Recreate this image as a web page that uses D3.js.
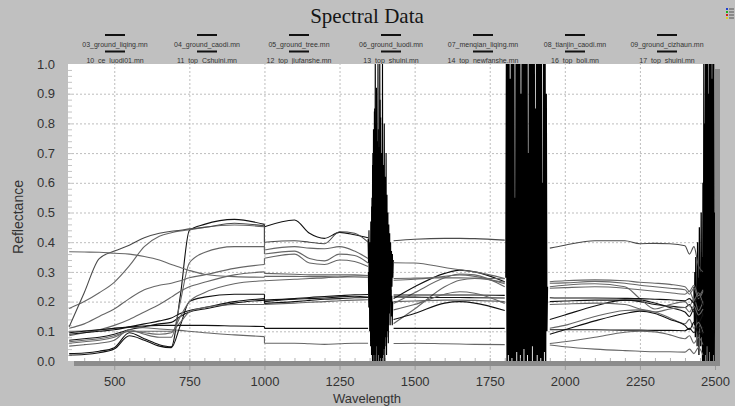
<!DOCTYPE html>
<html>
<head>
<meta charset="utf-8">
<script src="https://cdnjs.cloudflare.com/ajax/libs/d3/7.8.5/d3.min.js"></script>
<style>
    html, body { margin: 0; padding: 0; background: #c0c0c0; }
    #chart { width: 735px; height: 406px; }
    text { font-family: "Liberation Sans", Arial, sans-serif; }
</style>
</head>
<body>
<div id="chart"></div>
<script>
var seriesNames = ["03_ground_liqing.mn", "04_ground_caodi.mn", "05_ground_tree.mn", "06_ground_luodi.mn",
    "07_menqian_liqing.mn", "08_tianjin_caodi.mn", "09_ground_cizhaun.mn", "10_ce_luodi01.mn",
    "11_top_Cshuini.mn", "12_top_jiufanshe.mn", "13_top_shuini.mn", "14_top_newfanshe.mn",
    "16_top_boli.mn", "17_top_shuini.mn"];

// line shade per series (dark / grey)
var seriesShade = ["#111111", "#111111", "#666666", "#666666", "#666666", "#111111", "#666666",
    "#4a4a4a", "#666666", "#666666", "#111111", "#666666", "#111111", "#666666"];

// spectrum pieces, split at the detector join (1000) and the water bands
var visWave = [350, 400, 450, 500, 550, 600, 650, 690, 720, 750, 800, 900, 1000];
var swirAWave = [1000, 1100, 1150, 1200, 1250, 1300, 1345];
var swirBWave = [1430, 1500, 1600, 1650, 1700, 1800];
var swirCWave = [1950, 2000, 2100, 2200, 2250, 2300, 2350, 2400, 2415, 2430, 2445, 2460];

var visValues = [
    [0.07, 0.075, 0.08, 0.09, 0.105, 0.115, 0.125, 0.13, 0.15, 0.165, 0.175, 0.195, 0.205],
    [0.025, 0.027, 0.033, 0.045, 0.095, 0.075, 0.055, 0.048, 0.22, 0.44, 0.46, 0.477, 0.46],
    [0.05, 0.055, 0.06, 0.07, 0.105, 0.09, 0.08, 0.08, 0.2, 0.33, 0.365, 0.385, 0.385],
    [0.177, 0.2, 0.23, 0.265, 0.32, 0.385, 0.42, 0.432, 0.438, 0.442, 0.45, 0.458, 0.452],
    [0.1, 0.102, 0.105, 0.11, 0.113, 0.112, 0.108, 0.105, 0.103, 0.1, 0.095, 0.088, 0.082],
    [0.02, 0.022, 0.028, 0.04, 0.085, 0.07, 0.05, 0.045, 0.12, 0.2, 0.215, 0.225, 0.225],
    [0.11, 0.125, 0.15, 0.175, 0.21, 0.24, 0.255, 0.262, 0.27, 0.28, 0.29, 0.312, 0.325],
    [0.115, 0.23, 0.345, 0.37, 0.39, 0.415, 0.43, 0.437, 0.44, 0.445, 0.45, 0.464, 0.455],
    [0.085, 0.095, 0.105, 0.12, 0.14, 0.165, 0.19, 0.215, 0.235, 0.25, 0.265, 0.29, 0.3],
    [0.368, 0.367, 0.366, 0.363, 0.36, 0.352, 0.34, 0.325, 0.315, 0.305, 0.292, 0.284, 0.282],
    [0.09, 0.095, 0.1, 0.105, 0.115, 0.125, 0.135, 0.145, 0.16, 0.17, 0.18, 0.2, 0.21],
    [0.065, 0.07, 0.075, 0.085, 0.1, 0.1, 0.1, 0.1, 0.13, 0.165, 0.18, 0.19, 0.19],
    [0.095, 0.1, 0.105, 0.11, 0.115, 0.118, 0.12, 0.12, 0.12, 0.12, 0.12, 0.118, 0.116],
    [0.06, 0.065, 0.07, 0.08, 0.1, 0.095, 0.09, 0.095, 0.15, 0.2, 0.23, 0.26, 0.27]
];

var swirAValues = [
    [0.194, 0.2, 0.204, 0.208, 0.21, 0.213, 0.214],
    [0.452, 0.475, 0.43, 0.413, 0.433, 0.425, 0.415],
    [0.36, 0.37, 0.345, 0.337, 0.36, 0.355, 0.33],
    [0.374, 0.385, 0.38, 0.378, 0.385, 0.37, 0.345],
    [0.06, 0.06, 0.058, 0.056, 0.058, 0.06, 0.06],
    [0.2, 0.208, 0.21, 0.212, 0.216, 0.218, 0.215],
    [0.346, 0.36, 0.33, 0.325, 0.34, 0.335, 0.318],
    [0.4, 0.405, 0.4, 0.395, 0.435, 0.43, 0.4],
    [0.295, 0.292, 0.29, 0.29, 0.29, 0.29, 0.288],
    [0.285, 0.285, 0.284, 0.284, 0.283, 0.283, 0.282],
    [0.205, 0.21, 0.214, 0.217, 0.22, 0.223, 0.224],
    [0.19, 0.195, 0.198, 0.2, 0.203, 0.205, 0.206],
    [0.11, 0.11, 0.11, 0.11, 0.11, 0.11, 0.11],
    [0.27, 0.275, 0.278, 0.28, 0.283, 0.286, 0.287]
];

var swirBValues = [
    [0.216, 0.215, 0.214, 0.214, 0.213, 0.212],
    [0.21, 0.25, 0.295, 0.306, 0.3, 0.267],
    [0.126, 0.175, 0.25, 0.272, 0.278, 0.265],
    [0.331, 0.33, 0.315, 0.307, 0.3, 0.278],
    [0.059, 0.06, 0.058, 0.057, 0.056, 0.055],
    [0.14, 0.16, 0.195, 0.2, 0.195, 0.17],
    [0.194, 0.23, 0.28, 0.293, 0.29, 0.25],
    [0.405, 0.41, 0.413, 0.413, 0.412, 0.407],
    [0.272, 0.275, 0.285, 0.29, 0.285, 0.26],
    [0.278, 0.279, 0.28, 0.28, 0.279, 0.277],
    [0.222, 0.222, 0.222, 0.222, 0.222, 0.221],
    [0.2, 0.202, 0.205, 0.205, 0.204, 0.2],
    [0.11, 0.11, 0.11, 0.11, 0.11, 0.11],
    [0.172, 0.19, 0.225, 0.233, 0.228, 0.194]
];

var swirCValues = [
    [0.2, 0.202, 0.205, 0.205, 0.2, 0.19, 0.185, 0.18, 0.19, 0.165, 0.185, 0.15],
    [0.14, 0.155, 0.185, 0.205, 0.205, 0.195, 0.18, 0.165, 0.15, 0.175, 0.13, 0.16],
    [0.11, 0.12, 0.15, 0.17, 0.172, 0.165, 0.145, 0.125, 0.14, 0.11, 0.13, 0.095],
    [0.267, 0.27, 0.273, 0.27, 0.265, 0.262, 0.258, 0.25, 0.235, 0.255, 0.22, 0.24],
    [0.054, 0.048, 0.04, 0.035, 0.033, 0.031, 0.031, 0.03, 0.04, 0.025, 0.045, 0.02],
    [0.09, 0.105, 0.135, 0.16, 0.168, 0.16, 0.14, 0.12, 0.105, 0.13, 0.09, 0.115],
    [0.25, 0.255, 0.26, 0.25, 0.21, 0.175, 0.19, 0.2, 0.185, 0.21, 0.17, 0.2],
    [0.38, 0.39, 0.405, 0.405, 0.395, 0.396, 0.395, 0.388, 0.36, 0.385, 0.32, 0.3],
    [0.245, 0.247, 0.25, 0.245, 0.24, 0.235, 0.23, 0.225, 0.235, 0.205, 0.23, 0.19],
    [0.262, 0.263, 0.268, 0.262, 0.255, 0.25, 0.245, 0.24, 0.225, 0.245, 0.21, 0.235],
    [0.213, 0.212, 0.212, 0.211, 0.21, 0.208, 0.206, 0.203, 0.21, 0.195, 0.215, 0.185],
    [0.19, 0.192, 0.195, 0.19, 0.175, 0.165, 0.175, 0.18, 0.165, 0.185, 0.155, 0.175],
    [0.105, 0.105, 0.105, 0.104, 0.104, 0.103, 0.103, 0.102, 0.11, 0.095, 0.115, 0.09],
    [0.059, 0.065, 0.08, 0.097, 0.1, 0.098, 0.088, 0.075, 0.085, 0.06, 0.08, 0.055]
];

// noisy water absorption bands: [first wavelength, sampling step] + samples
var noise1400a = [1345, 1.5];
var noise1400aValues = [0.41, 0.33, 0.44, 0.2, 0.4, 0.12, 0.47, 0.08, 0.52, 0.04, 0.66, 0.02, 0.78, 0, 0.84,
    0.03, 1.05, 0, 0.8, 0.1, 0.74, 0, 1.05, 0.02, 0.72, 0, 1.05, 0.05, 0.82, 0, 0.7, 0.01, 1.05, 0, 0.66,
    0.04, 0.8, 0, 0.62, 0.08, 0.7, 0.02, 0.56, 0.1, 0.5, 0.06, 0.46, 0.16, 0.43, 0.12, 0.4, 0.2, 0.37,
    0.25, 0.36, 0.28, 0.34];
var noise1400b = [1346, 1.5];
var noise1400bValues = [0.3, 0.18, 0.35, 0.1, 0.3, 0.05, 0.4, 0.02, 0.55, 0, 0.7, 0.06, 0.45, 0, 0.85, 0.02,
    0.6, 0, 0.92, 0.05, 0.5, 0, 0.78, 0.03, 0.66, 0, 0.88, 0.01, 0.52, 0, 0.7, 0.04, 0.48, 0.02, 0.58, 0.07,
    0.42, 0.05, 0.38, 0.1, 0.35, 0.08, 0.3, 0.15, 0.33, 0.12, 0.28, 0.18, 0.26, 0.2, 0.24, 0.15, 0.22, 0.12, 0.2];
var noise1870 = [1804, 2];
var noise1870Values = [0.28, 1.05, 0, 1.05, 0.02, 1.05, 0, 0.95, 0, 1.05, 0.01, 1.05, 0, 1.05, 0, 0.55, 0,
    1.05, 0.03, 1.05, 0, 1.05, 0, 1.05, 0.02, 0.9, 0, 1.05, 0, 1.05, 0.04, 1.05, 0, 1.05, 0, 1.05, 0.02, 0.7,
    0, 1.05, 0, 1.05, 0, 1.05, 0.05, 1.05, 0, 1.05, 0, 0.85, 0, 1.05, 0.02, 1.05, 0, 1.05, 0, 1.05, 0.01,
    1.05, 0, 0.6, 0, 1.05, 0.03, 1.05, 0, 0.9, 0.1, 0.25];
var noise2470 = [2430, 1.5];
var noise2470Values = [0.25, 0.12, 0.3, 0.08, 0.35, 0.15, 0.22, 0.05, 0.4, 0.1, 0.28, 0.02, 0.45, 0.12, 0.3,
    0.05, 0.5, 0.08, 0.35, 0, 0.6, 0, 1.05, 0, 0.8, 0.02, 1.05, 0, 1.05, 0.05, 1.05, 0, 0.9, 0, 1.05, 0.03,
    1.05, 0, 1.05, 0, 0.95, 0, 1.05, 0.02, 1.05, 0, 0.5];

var yTicks = [0, 0.1, 0.2, 0.3, 0.4, 0.5, 0.6, 0.7, 0.8, 0.9, 1.0];
var xTicks = [500, 750, 1000, 1250, 1500, 1750, 2000, 2250, 2500];
var xGrid = [500, 750, 1000, 1250, 1500, 1750, 2000, 2250];


function drawSpectra(element) {

    var width = 735,
        height = 406,
        left = 68, right = 715, top = 64, bottom = 361;

    var svg = d3.select(element).append("svg")
                .attr("width", width)
                .attr("height", height);

    svg.append("rect").attr("width", width).attr("height", height).attr("fill", "#c0c0c0");

    var x = d3.scaleLinear().domain([346, 2500]).range([left, right]);
    var y = d3.scaleLinear().domain([0, 1]).range([bottom, top]);

    /* Title */
    svg.append("text")
        .text("Spectral Data")
        .attr("x", 367).attr("y", 23)
        .attr("text-anchor", "middle")
        .style("font-family", "'Liberation Serif', 'Times New Roman', serif")
        .attr("font-size", "21px")
        .attr("fill", "#151515");

    /* tiny legend icon top right */
    var iconColors = ["#2040d0", "#20b020", "#d02020", "#e0d020"];
    var icon = svg.append("g").attr("class", "icon");
    iconColors.forEach(function(c, i) {
        icon.append("rect").attr("x", 726).attr("y", 8 + i * 3).attr("width", 2).attr("height", 2).attr("fill", c);
        icon.append("rect").attr("x", 729).attr("y", 8.5 + i * 3).attr("width", 5).attr("height", 1).attr("fill", "#555");
    });

    /* Legend */
    var legend = svg.append("g").attr("class", "legend");
    seriesNames.forEach(function(name, i) {
        var col = i % 7, row = Math.floor(i / 7);
        var cx = 115 + col * 92;
        var ly = row === 0 ? 35 : 51.5;
        legend.append("line")
            .attr("x1", cx - 10).attr("x2", cx + 10)
            .attr("y1", ly).attr("y2", ly)
            .attr("stroke", "#111").attr("stroke-width", 2);
        legend.append("text")
            .text(name)
            .attr("x", cx).attr("y", ly + 11.5)
            .attr("text-anchor", "middle")
            .attr("font-size", "7px")
            .attr("fill", "#333");
    });

    /* plot box with shadow */
    svg.append("rect")
        .attr("x", left + 6).attr("y", top + 5)
        .attr("width", right - left - 1).attr("height", bottom - top)
        .attr("fill", "#8c8c8c");
    svg.append("rect")
        .attr("x", left).attr("y", top)
        .attr("width", right - left).attr("height", bottom - top)
        .attr("fill", "#fff");

    /* grid */
    svg.append("g")
        .attr("class", "grid")
        .attr("transform", "translate(0," + bottom + ")")
        .call(d3.axisBottom(x).tickValues(xGrid).tickSize(-(bottom - top)).tickFormat(""));
    svg.append("g")
        .attr("class", "grid")
        .attr("transform", "translate(" + left + ",0)")
        .call(d3.axisLeft(y).tickValues(yTicks.slice(1, 10)).tickSize(-(right - left)).tickFormat(""));
    svg.selectAll(".grid .domain").remove();
    svg.selectAll(".grid line")
        .attr("stroke", "#bdbdbd")
        .attr("stroke-dasharray", "2,2");

    /* minor ticks inside the frame */
    var minorY = d3.range(1, 50).map(function(i) { return i / 50; });
    svg.append("g")
        .attr("transform", "translate(" + left + ",0)")
        .call(d3.axisRight(y).tickValues(minorY).tickSize(4).tickFormat(""))
        .call(function(g) { g.select(".domain").remove(); })
        .selectAll("line").attr("stroke", "#c4c4c4");
    var minorX = d3.range(400, 2500, 50);
    svg.append("g")
        .attr("transform", "translate(0," + bottom + ")")
        .call(d3.axisTop(x).tickValues(minorX).tickSize(3).tickFormat(""))
        .call(function(g) { g.select(".domain").remove(); })
        .selectAll("line").attr("stroke", "#b4b4b4");

    /* axes labels */
    var yAxis = svg.append("g")
        .attr("transform", "translate(" + left + ",0)")
        .call(d3.axisLeft(y).tickValues(yTicks).tickSize(0).tickPadding(13).tickFormat(d3.format(".1f")));
    yAxis.select(".domain").remove();
    yAxis.selectAll("text").attr("font-size", "13px").attr("fill", "#333")
        .style("font-family", "'Liberation Sans', Arial, sans-serif");

    var xAxis = svg.append("g")
        .attr("transform", "translate(0," + (bottom + 5) + ")")
        .call(d3.axisBottom(x).tickValues(xTicks).tickSize(4).tickPadding(7).tickFormat(d3.format("d")));
    xAxis.select(".domain").remove();
    xAxis.selectAll("line").attr("stroke", "#999");
    xAxis.selectAll("text").attr("font-size", "13px").attr("fill", "#333")
        .style("font-family", "'Liberation Sans', Arial, sans-serif");

    svg.append("text")
        .text("Wavelength")
        .attr("x", 367).attr("y", 403)
        .attr("text-anchor", "middle")
        .attr("font-size", "13px").attr("fill", "#333");

    svg.append("text")
        .text("Reflectance")
        .attr("transform", "translate(23,217) rotate(-90)")
        .attr("text-anchor", "middle")
        .attr("font-size", "14px").attr("fill", "#333");

    /* Spectra */
    svg.append("clipPath").attr("id", "plotClip")
        .append("rect")
        .attr("x", left).attr("y", top)
        .attr("width", right - left).attr("height", bottom - top);

    var plot = svg.append("g").attr("clip-path", "url(#plotClip)");

    var smooth = d3.line()
        .x(function(d) { return x(d[0]); })
        .y(function(d) { return y(d[1]); })
        .curve(d3.curveMonotoneX);
    var straight = d3.line()
        .x(function(d) { return x(d[0]); })
        .y(function(d) { return y(d[1]); });

    var pieces = [[visWave, visValues], [swirAWave, swirAValues], [swirBWave, swirBValues], [swirCWave, swirCValues]];

    // noise bands first, spectra on top
    var bands = [[noise1400a, noise1400aValues, 1.1], [noise1400b, noise1400bValues, 1.1],
                 [noise1870, noise1870Values, 1.5], [noise2470, noise2470Values, 1.3]];
    bands.forEach(function(b) {
        var pts = b[1].map(function(v, i) { return [b[0][0] + i * b[0][1], v]; });
        plot.append("path")
            .attr("d", straight(pts))
            .attr("fill", "none")
            .attr("stroke", "#000")
            .attr("stroke-width", b[2]);
    });

    seriesNames.forEach(function(name, s) {
        var g = plot.append("g").attr("class", "series");
        pieces.forEach(function(p) {
            var pts = p[0].map(function(w, i) { return [w, p[1][s][i]]; });
            g.append("path")
                .attr("d", smooth(pts))
                .attr("fill", "none")
                .attr("stroke", seriesShade[s])
                .attr("stroke-width", 1.1);
        });
        // detector join at 1000 nm
        var join = [[visWave[visWave.length - 1], visValues[s][visWave.length - 1]], [swirAWave[0], swirAValues[s][0]]];
        g.append("path")
            .attr("d", straight(join))
            .attr("fill", "none")
            .attr("stroke", seriesShade[s])
            .attr("stroke-width", 1.1);
    });
}

drawSpectra("#chart");
</script>
</body>
</html>
